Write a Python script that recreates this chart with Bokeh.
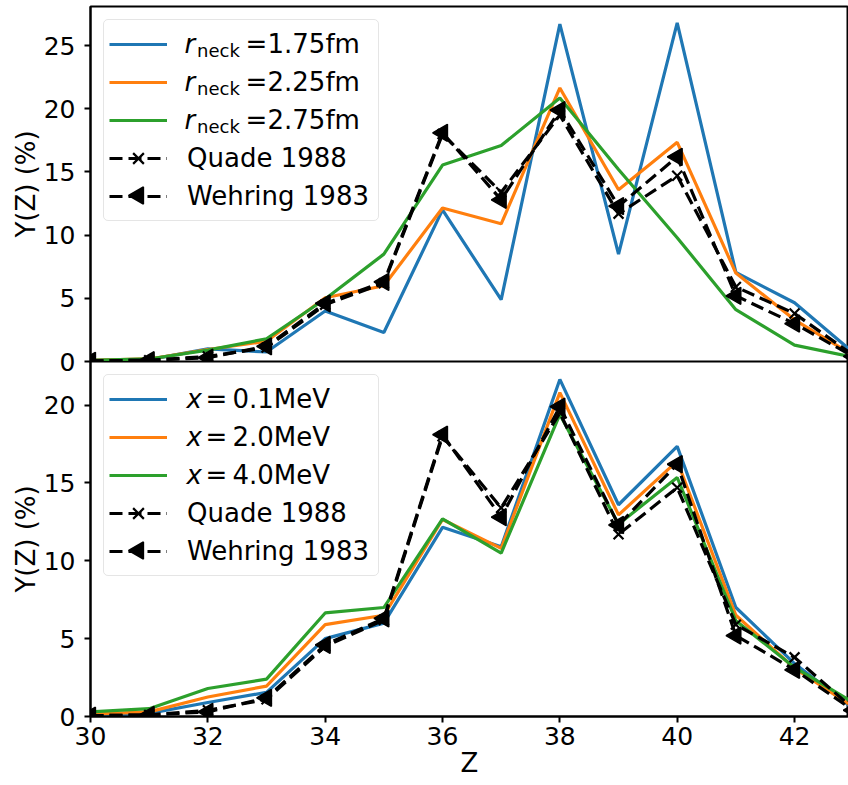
import numpy as np
from bokeh.plotting import figure
from bokeh.models import Range1d, Legend, LegendItem, Label, FixedTicker
from bokeh.layouts import column
from bokeh.embed import file_html
from bokeh.resources import INLINE
from bokeh.core.properties import value

# ---------------- data ----------------
Z = [30, 31, 32, 33, 34, 35, 36, 37, 38, 39, 40, 41, 42, 43]

# top panel: neck radius variation
r_175 = [0.1, 0.15, 1.0, 0.75, 4.0, 2.3, 12.0, 4.9, 26.7, 8.5, 26.8, 7.05, 4.65, 0.7]
r_225 = [0.1, 0.2, 0.95, 1.6, 5.05, 6.0, 12.15, 10.9, 21.65, 13.6, 17.35, 7.0, 3.3, 0.5]
r_275 = [0.1, 0.2, 0.9, 1.8, 4.95, 8.5, 15.55, 17.1, 20.85, 15.2, 9.8, 4.1, 1.3, 0.35]

# bottom panel: excitation energy variation
x_01 = [0.05, 0.2, 0.9, 1.55, 5.0, 6.0, 12.15, 10.9, 21.65, 13.6, 17.35, 7.0, 3.4, 0.5]
x_20 = [0.15, 0.3, 1.25, 1.95, 5.9, 6.5, 12.65, 10.8, 20.8, 12.95, 16.4, 6.5, 3.1, 0.6]
x_40 = [0.3, 0.5, 1.8, 2.4, 6.65, 7.0, 12.7, 10.5, 19.4, 12.35, 15.35, 6.15, 3.15, 0.9]

# experimental references
quade_1988 = [0.05, 0.1, 0.4, 1.1, 4.5, 6.2, 18.0, 13.4, 19.5, 11.7, 14.7, 5.9, 3.8, 0.5]
wehring_1983 = [0.05, 0.1, 0.3, 1.2, 4.6, 6.3, 18.1, 12.8, 19.9, 12.3, 16.2, 5.2, 3.0, 0.4]

top_labels = [("r", "neck", "1.75fm"), ("r", "neck", "2.25fm"), ("r", "neck", "2.75fm")]
bot_labels = [("x", None, "0.1MeV"), ("x", None, "2.0MeV"), ("x", None, "4.0MeV")]
x_ticks = [30, 32, 34, 36, 38, 40, 42]
top_yticks = [0, 5, 10, 15, 20, 25]
bot_yticks = [0, 5, 10, 15, 20]

# ---------------- style ----------------
FONT = "DejaVu Sans"
COLORS = ["#1f77b4", "#ff7f0e", "#2ca02c"]
FW = 758
PX_PER_Z = 58.67
X_END = 30 + FW / PX_PER_Z
LEFT = 90
LW = 3.2
DASH = "13 6"
OVERLAP = 14

x_range = Range1d(30, X_END)


def style(p, yticks, xaxis):
    p.xgrid.visible = False
    p.ygrid.visible = False
    p.outline_line_color = "black"
    p.outline_line_width = 2
    p.background_fill_color = "white"
    axes = [p.yaxis[0]] + ([p.xaxis[0]] if xaxis else [])
    for ax in axes:
        ax.major_label_text_font = FONT
        ax.major_label_text_font_size = "25px"
        ax.major_label_text_color = "black"
        ax.major_tick_out = 6
        ax.major_tick_in = 0
        ax.minor_tick_out = 0
        ax.minor_tick_in = 0
        ax.major_tick_line_width = 2
        ax.major_tick_line_color = "black"
        ax.axis_line_width = 2
        ax.axis_line_color = "black"
        ax.axis_label_text_font = FONT
        ax.axis_label_text_font_size = "26px"
        ax.axis_label_text_font_style = "normal"
        ax.axis_label_text_color = "black"
    p.yaxis[0].ticker = FixedTicker(ticks=yticks)
    p.yaxis[0].axis_label = "Y(Z) (%)"
    p.yaxis[0].major_label_standoff = 9
    p.yaxis[0].axis_label_standoff = 0
    if xaxis:
        p.xaxis[0].ticker = FixedTicker(ticks=x_ticks)
        p.xaxis[0].axis_label = "Z"
        p.xaxis[0].major_label_standoff = 4
        p.xaxis[0].axis_label_standoff = 0


def panel(frame_h, y_end, yticks, series, labels, top):
    kw = dict(frame_width=FW, frame_height=frame_h, x_range=x_range,
              y_range=Range1d(0, y_end), output_backend="svg",
              toolbar_location=None, min_border_left=LEFT, min_border_right=0)
    if top:
        p = figure(x_axis_location=None, min_border_top=6,
                   min_border_bottom=OVERLAP, **kw)
        p.border_fill_color = "white"
    else:
        p = figure(x_axis_location="below", min_border_top=0, min_border_bottom=0,
                   margin=(-OVERLAP, 0, 0, 0), **kw)
        p.border_fill_alpha = 0.0
    style(p, yticks, not top)
    items = []
    for ys, c in zip(series, COLORS):
        r = p.line(Z, ys, line_color=c, line_width=LW)
        items.append(LegendItem(label=value("\u00a0"), renderers=[r]))
    lq = p.line(Z, quade_1988, line_color="black", line_width=LW, line_dash=DASH)
    sq = p.scatter(Z, quade_1988, marker="x", size=14, line_color="black", line_width=2.2)
    lw_ = p.line(Z, wehring_1983, line_color="black", line_width=LW, line_dash=DASH)
    p.scatter(Z, wehring_1983, marker="triangle", angle=np.pi / 2, size=17,
              fill_color="black", line_color="black", line_width=1.5)
    items.append(LegendItem(label="Quade 1988", renderers=[lq, sq]))
    items.append(LegendItem(label="Wehring 1983", renderers=[lw_]))

    PAD, ROW, MARGIN, GW = 5, 38, 13, 58
    leg = Legend(items=items, location="top_left", margin=MARGIN, padding=PAD,
                 spacing=0, glyph_width=GW, glyph_height=ROW, label_height=ROW,
                 label_width=186, label_standoff=20,
                 label_text_font=FONT, label_text_font_size="26px",
                 label_text_color="black",
                 border_line_color="#cccccc", border_line_width=1.5,
                 background_fill_color="white", background_fill_alpha=0.0)
    if "border_radius" in Legend.properties():
        leg.border_radius = 5
    p.add_layout(leg)

    def to_data(px, py):
        return 30 + px / PX_PER_Z, y_end * (frame_h - py) / frame_h

    def row_c(i):
        return MARGIN + PAD + ROW / 2 + ROW * i

    # left-pointing triangle sample for the Wehring legend entry
    mx, my = to_data(MARGIN + PAD + GW / 2 + 1, row_c(4))
    p.scatter([mx], [my], marker="triangle", angle=np.pi / 2, size=17,
              fill_color="black", line_color="black", line_width=1.5, level="overlay")

    # math-style legend texts
    for i, (sym, sub, rest) in enumerate(labels):
        c = row_c(i)
        if sub is not None:
            xs, xsub, xeq, xrest = 94, 106.5, 155, 177
        else:
            xs, xsub, xeq, xrest = 96, None, 115, 142
        x0, y0 = to_data(xs, c)
        p.add_layout(Label(x=x0, y=y0, text=sym, text_font=FONT, text_font_size="26px",
                           text_font_style="italic", text_baseline="middle",
                           text_color="black", level="overlay"))
        if sub is not None:
            x1, y1 = to_data(xsub, c + 7)
            p.add_layout(Label(x=x1, y=y1, text=sub, text_font=FONT, text_font_size="18px",
                               text_baseline="middle", text_color="black", level="overlay"))
        x2, y2 = to_data(xeq, c)
        p.add_layout(Label(x=x2, y=y2, text="=", text_font=FONT, text_font_size="26px",
                           text_baseline="middle", text_color="black", level="overlay"))
        x3, y3 = to_data(xrest, c)
        p.add_layout(Label(x=x3, y=y3, text=rest, text_font=FONT, text_font_size="26px",
                           text_baseline="middle", text_color="black", level="overlay"))
    return p


p_top = panel(355, 28.1, top_yticks, [r_175, r_225, r_275], top_labels, True)
p_bot = panel(355, 22.8, bot_yticks, [x_01, x_20, x_40], bot_labels, False)

p = column(p_top, p_bot, spacing=0)
open("out.html", "w").write(file_html(p, INLINE))
